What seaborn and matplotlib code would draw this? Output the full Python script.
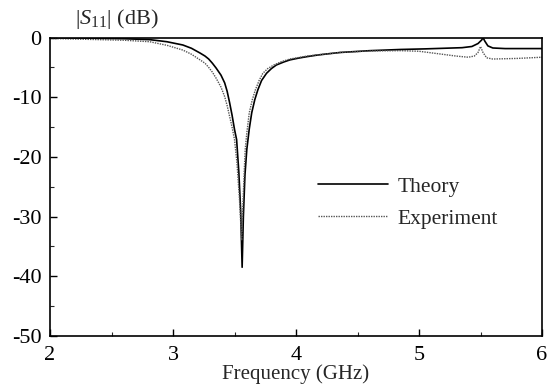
import matplotlib
matplotlib.use("Agg")
import matplotlib.pyplot as plt
import seaborn as sns
import pandas as pd
from matplotlib.ticker import MultipleLocator

# ---- data ----
theory_f = [2.0, 2.3, 2.6, 2.81, 2.95, 3.08, 3.15, 3.22, 3.26, 3.29, 3.32, 3.35, 3.39,
            3.42, 3.44, 3.46, 3.48, 3.50, 3.517, 3.535, 3.55, 3.562, 3.572, 3.585,
            3.60, 3.62, 3.64, 3.665, 3.69, 3.72, 3.76, 3.80, 3.84, 3.90, 3.95, 4.02,
            4.09, 4.17, 4.25, 4.36, 4.6, 4.85, 5.05, 5.2, 5.35, 5.43, 5.48, 5.51,
            5.52, 5.535, 5.56, 5.6, 5.7, 6.0]
theory_db = [-0.05, -0.1, -0.2, -0.35, -0.7, -1.25, -1.8, -2.6, -3.1, -3.6, -4.3, -5.1,
             -6.3, -7.6, -9.0, -10.9, -13.0, -15.4, -17.1, -22.5, -29.0, -38.5, -30.0,
             -23.0, -18.75, -15.3, -12.6, -10.4, -8.75, -7.2, -6.0, -5.2, -4.6, -4.1,
             -3.75, -3.45, -3.2, -2.95, -2.75, -2.5, -2.2, -2.0, -1.9, -1.8, -1.7, -1.5,
             -1.0, -0.4, 0.0, -0.6, -1.4, -1.75, -1.85, -1.85]

exp_f = [2.0, 2.3, 2.6, 2.81, 2.95, 3.08, 3.15, 3.22, 3.26, 3.29, 3.32, 3.35, 3.39,
         3.42, 3.44, 3.46, 3.48, 3.50, 3.52, 3.54, 3.558, 3.568, 3.58, 3.587, 3.60,
         3.62, 3.645, 3.67, 3.70, 3.73, 3.77, 3.82, 3.88, 3.95, 4.02, 4.09, 4.17,
         4.25, 4.36, 4.6, 4.85, 5.0, 5.17, 5.3, 5.4, 5.45, 5.48, 5.50, 5.52, 5.55,
         5.6, 5.8, 6.0]
exp_db = [-0.15, -0.3, -0.45, -0.7, -1.3, -2.1, -2.8, -3.75, -4.3, -5.0, -5.8, -6.8,
          -8.3, -9.9, -11.4, -13.2, -15.0, -17.1, -21.0, -27.0, -34.0, -28.0, -22.0,
          -18.75, -16.0, -12.6, -10.4, -8.75, -7.2, -6.0, -5.2, -4.6, -4.05, -3.6,
          -3.35, -3.1, -2.9, -2.75, -2.5, -2.25, -2.2, -2.3, -2.75, -3.1, -3.3, -3.1,
          -2.5, -1.5, -2.5, -3.4, -3.6, -3.5, -3.3]

x_ticks = [2, 3, 4, 5, 6]
y_ticks = [0, -10, -20, -30, -40, -50]
series_names = ["Theory", "Experiment"]

theory = pd.DataFrame({"f": theory_f, "s11": theory_db})
experiment = pd.DataFrame({"f": exp_f, "s11": exp_db})

sns.set_style("ticks")
plt.rcParams["font.family"] = ["Liberation Serif", "DejaVu Serif"]
plt.rcParams["mathtext.fontset"] = "custom"
plt.rcParams["mathtext.rm"] = "Liberation Serif"
plt.rcParams["mathtext.it"] = "Liberation Serif:italic"
plt.rcParams["axes.unicode_minus"] = False

fig = plt.figure(figsize=(5.52, 3.87), dpi=100)
ax = fig.add_axes([0.0906, 0.132, 0.8913, 0.771])

sns.lineplot(data=theory, x="f", y="s11", ax=ax, color="black", linewidth=1.2,
             sort=False, label=series_names[0])
sns.lineplot(data=experiment, x="f", y="s11", ax=ax, color="#555555", linewidth=1.0,
             linestyle=(0, (1, 0.8)), sort=False, label=series_names[1])

ax.set_xlim(2, 6)
ax.set_ylim(-50, 0)
ax.set_xticks(x_ticks)
ax.set_yticks(y_ticks)
ax.xaxis.set_minor_locator(MultipleLocator(0.5))
ax.yaxis.set_minor_locator(MultipleLocator(5))
ax.tick_params(which="major", direction="in", length=5, width=1.0, labelsize=16,
               colors="black")
ax.tick_params(which="minor", direction="in", length=3, width=0.8)
ax.tick_params(axis="x", which="major", pad=7)
ax.tick_params(axis="y", which="major", pad=6)
for s in ax.spines.values():
    s.set_linewidth(1.2)
    s.set_color("black")
    s.set_visible(True)

ax.set_xlabel("Frequency (GHz)", fontsize=15, labelpad=0)
ax.set_ylabel("")
fig.text(0.136, 0.952, r"$|S_{11}|$ (dB)", fontsize=16, ha="left", va="center")

leg = ax.legend(loc="center left", bbox_to_anchor=(0.545, 0.446), frameon=False,
                fontsize=15.5, handlelength=3.25, handletextpad=0.45, labelspacing=0.55,
                borderaxespad=0, borderpad=0)

fig.savefig("out.png", dpi=100)
